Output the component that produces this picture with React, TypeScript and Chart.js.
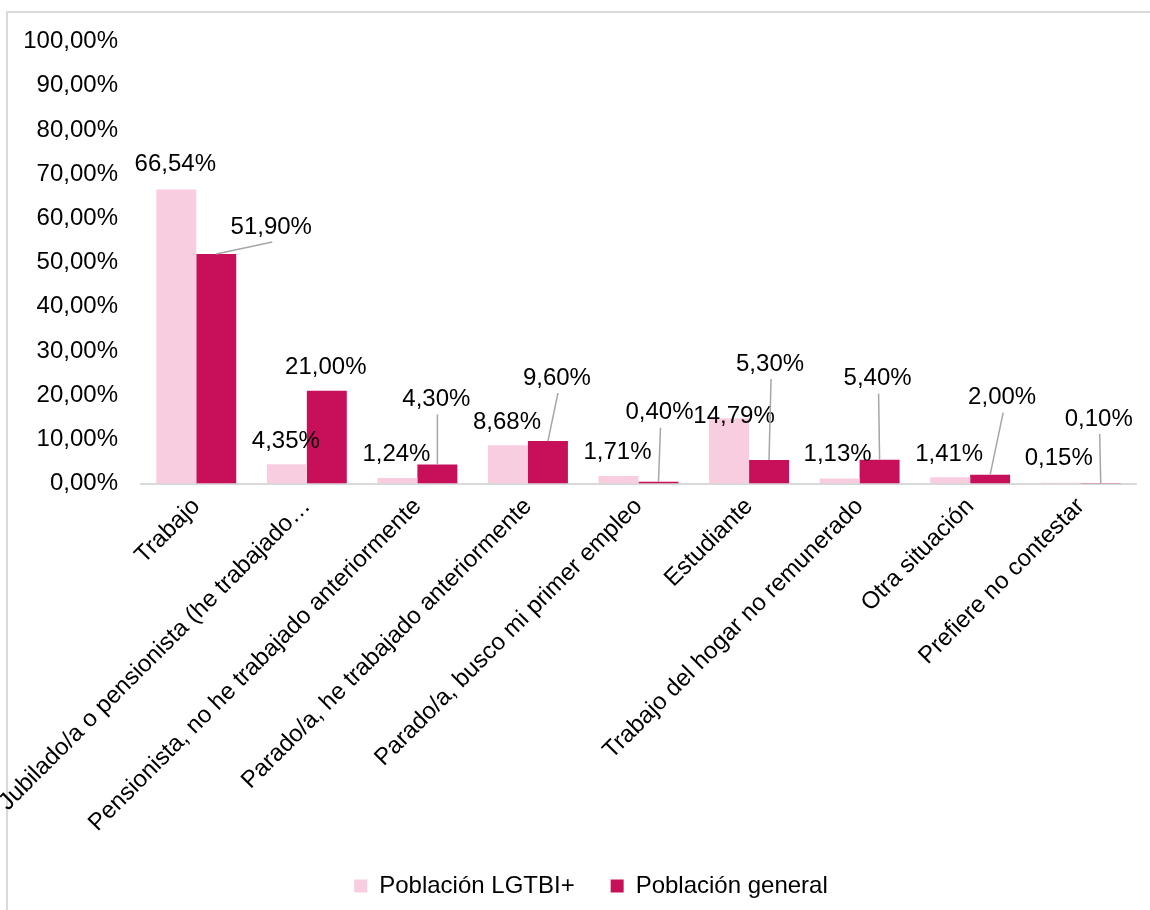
import React, { useEffect, useRef } from "react";
import { Chart, registerables } from "chart.js";

Chart.register(...registerables);

const categories = [
  "Trabajo",
  "Jubilado/a o pensionista (he trabajado…",
  "Pensionista, no he trabajado anteriormente",
  "Parado/a, he trabajado anteriormente",
  "Parado/a, busco mi primer empleo",
  "Estudiante",
  "Trabajo del hogar no remunerado",
  "Otra situación",
  "Prefiere no contestar",
];
const lgtbiValues = [66.54, 4.35, 1.24, 8.68, 1.71, 14.79, 1.13, 1.41, 0.15];
const generalValues = [51.9, 21.0, 4.3, 9.6, 0.4, 5.3, 5.4, 2.0, 0.1];
const seriesNames = ["Población LGTBI+", "Población general"];

// label placement (style): [dx, dy, leaderLine] relative to the bar's top centre
const lgtbiLabelOffsets: [number, number, boolean][] = [
  [-1, -25, false], [-1, -23, false], [-1, -24, false], [-1, -23, false], [-1, -24, false],
  [5, -2, false], [-2, -24, false], [-1, -23, false], [-2, -24, false],
];
const generalLabelOffsets: [number, number, boolean][] = [
  [55, -27, true], [-1, -23, false], [-1, -65, true], [9, -63, true], [1, -69, true],
  [1, -96, true], [-2, -81, true], [12, -77, true], [-2, -64, true],
];

const FONT = "'Liberation Sans', Arial, sans-serif";
const FS = 24;
const PINK = "#F8CDE0";
const RED = "#C80F5A";
const LEGEND_SHIFT = 23;

const fmt = (v: number) => v.toFixed(2).replace(".", ",") + "%";

const labelPlugin = {
  id: "barLabels",
  afterLayout(chart: any) {
    const lg = chart.legend;
    if (lg) {
      lg.left += LEGEND_SHIFT;
      lg.right += LEGEND_SHIFT;
    }
  },
  afterDatasetsDraw(chart: any) {
    const ctx = chart.ctx;
    ctx.save();
    ctx.font = `${FS}px ${FONT}`;
    ctx.textAlign = "center";
    ctx.textBaseline = "middle";
    const offsets = [lgtbiLabelOffsets, generalLabelOffsets];
    chart.data.datasets.forEach((ds: any, di: number) => {
      const meta = chart.getDatasetMeta(di);
      meta.data.forEach((bar: any, i: number) => {
        const [dx, dy, leader] = offsets[di][i];
        const lx = bar.x + dx;
        const ly = bar.y + dy;
        if (leader) {
          ctx.strokeStyle = "#A6A6A6";
          ctx.lineWidth = 1.5;
          ctx.beginPath();
          ctx.moveTo(lx + 1, ly + 15);
          ctx.lineTo(bar.x, bar.y);
          ctx.stroke();
        }
        ctx.fillStyle = "#000000";
        ctx.fillText(fmt(ds.data[i]), lx, ly);
      });
    });
    ctx.restore();
  },
};

export default function App() {
  const ref = useRef<HTMLCanvasElement>(null);
  useEffect(() => {
    if (!ref.current) return;
    const chart = new Chart(ref.current, {
      type: "bar",
      data: {
        labels: categories,
        datasets: [
          { label: seriesNames[0], data: lgtbiValues, backgroundColor: PINK, borderWidth: 0 },
          { label: seriesNames[1], data: generalValues, backgroundColor: RED, borderWidth: 0 },
        ],
      },
      options: {
        responsive: false,
        animation: false,
        devicePixelRatio: 1,
        layout: { padding: { top: 41.5, right: 14, bottom: 2, left: 0 } },
        datasets: { bar: { categoryPercentage: 0.723, barPercentage: 1 } },
        scales: {
          x: {
            grid: { display: false, drawTicks: false },
            border: { display: true, color: "#D9D9D9", width: 2 },
            ticks: {
              autoSkip: false,
              minRotation: 45,
              maxRotation: 45,
              padding: 9,
              color: "#000000",
              font: { family: FONT, size: FS },
            },
            afterFit: (scale: any) => {
              scale.height = 354.5;
            },
          },
          y: {
            min: 0,
            max: 100,
            grid: { display: false, drawTicks: false },
            border: { display: false },
            ticks: {
              stepSize: 10,
              padding: 23,
              color: "#000000",
              font: { family: FONT, size: FS },
              callback: (v: any) => fmt(Number(v)),
            },
            afterFit: (scale: any) => {
              scale.width = 141;
            },
          },
        },
        plugins: {
          legend: {
            position: "bottom",
            labels: {
              boxWidth: 13,
              boxHeight: 13,
              padding: 36,
              color: "#000000",
              font: { family: FONT, size: FS },
            },
          },
          tooltip: { enabled: false },
        },
      },
      plugins: [labelPlugin],
    });
    return () => chart.destroy();
  }, []);

  return (
    <div style={{ position: "absolute", left: 0, top: 0, width: 1150, height: 910, overflow: "hidden", background: "#fff" }}>
      <div
        style={{
          position: "absolute",
          left: 6,
          top: 11,
          width: 2000,
          height: 2000,
          border: "2px solid #D9D9D9",
        }}
      />
      <canvas ref={ref} width={1150} height={910} style={{ position: "absolute", left: 0, top: 0, width: 1150, height: 910 }} />
    </div>
  );
}
